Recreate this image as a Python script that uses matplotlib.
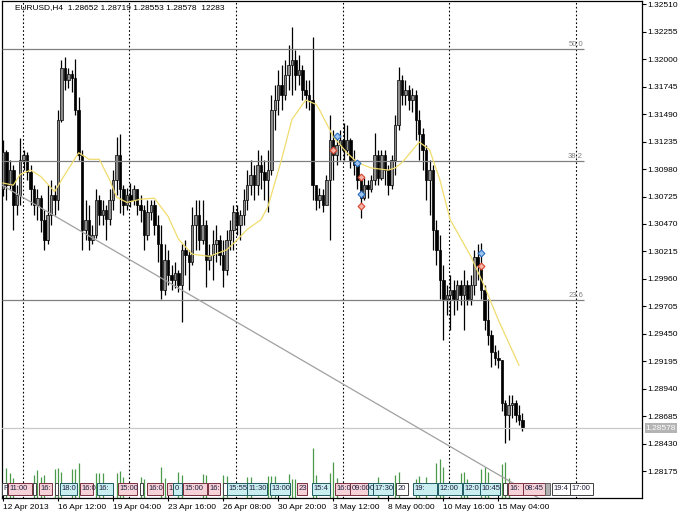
import numpy as np
import matplotlib.pyplot as plt
from matplotlib.patches import Rectangle
import matplotlib.transforms as mtransforms

plt.rcParams['font.family'] = ['Liberation Sans', 'DejaVu Sans']

# ---- data (EURUSD H4) ----
first_open = 1.3079
close = [1.3114, 1.3083, 1.3097, 1.3065, 1.3074, 1.3106, 1.3111, 1.3095, 1.3079, 1.3065,
         1.3071, 1.3051, 1.3032, 1.3055, 1.3074, 1.3069, 1.3143, 1.3192, 1.3181, 1.3186,
         1.3182, 1.3153, 1.3111, 1.3041, 1.3051, 1.3032, 1.3037, 1.3069, 1.3055, 1.3060,
         1.3052, 1.3069, 1.3088, 1.3111, 1.3079, 1.3065, 1.3074, 1.3069, 1.3079, 1.3065,
         1.3060, 1.3037, 1.3058, 1.3065, 1.3046, 1.3028, 1.2986, 1.3014, 1.3000, 1.2995,
         1.3002, 1.2990, 1.3023, 1.3018, 1.3012, 1.3046, 1.3055, 1.3032, 1.3046, 1.3014,
         1.3018, 1.3028, 1.3032, 1.3018, 1.3004, 1.3032, 1.3041, 1.3058, 1.3046, 1.3055,
         1.3069, 1.3083, 1.3092, 1.3083, 1.3102, 1.3095, 1.3088, 1.3097, 1.3153, 1.3162,
         1.3176, 1.3167, 1.3185, 1.3194, 1.3199, 1.3185, 1.3190, 1.3171, 1.3167, 1.3162,
         1.3083, 1.3069, 1.3074, 1.3065, 1.3088, 1.3125, 1.3111, 1.3120, 1.3125, 1.3116,
         1.3125, 1.3106, 1.3102, 1.3088, 1.3071, 1.3083, 1.3079, 1.3088, 1.3111, 1.3090,
         1.3111, 1.3097, 1.3083, 1.3106, 1.3139, 1.3181, 1.3167, 1.3171, 1.3162, 1.3167,
         1.3143, 1.3130, 1.3116, 1.3088, 1.3097, 1.3041, 1.3023, 1.2995, 1.2977, 1.2981,
         1.2986, 1.2977, 1.2990, 1.2981, 1.2990, 1.2977, 1.2990, 1.3016, 1.3009, 1.2986,
         1.2958, 1.2944, 1.2928, 1.2923, 1.2921, 1.2881, 1.2870, 1.2879, 1.2881, 1.2870,
         1.28652, 1.28578]
high = [1.3125, 1.3116, 1.3106, 1.3102, 1.3083, 1.3127, 1.3116, 1.3114, 1.3102, 1.3083,
        1.3079, 1.3074, 1.3060, 1.3083, 1.3088, 1.3083, 1.3153, 1.3199, 1.3202, 1.3192,
        1.3190, 1.3200, 1.3165, 1.3116, 1.3069, 1.3065, 1.3046, 1.3079, 1.3074, 1.3069,
        1.3065, 1.3079, 1.3097, 1.3128, 1.3130, 1.3083, 1.3080, 1.3085, 1.3083, 1.3079,
        1.3074, 1.3065, 1.3069, 1.3069, 1.3069, 1.3055, 1.3046, 1.3028, 1.3023, 1.3009,
        1.3012, 1.3004, 1.3028, 1.3032, 1.3023, 1.3063, 1.3069, 1.3069, 1.3069, 1.3051,
        1.3028, 1.3041, 1.3046, 1.3037, 1.3032, 1.3041, 1.3051, 1.3065, 1.3065, 1.3060,
        1.3079, 1.3097, 1.3106, 1.3102, 1.3116, 1.3111, 1.3106, 1.3116, 1.3167, 1.3176,
        1.3190, 1.3194, 1.3199, 1.3213, 1.3230, 1.3208, 1.3204, 1.3194, 1.3181, 1.3181,
        1.3220, 1.3083, 1.3080, 1.3079, 1.3092, 1.3148, 1.3134, 1.3130, 1.3134, 1.3141,
        1.3139, 1.3127, 1.3116, 1.3106, 1.3092, 1.3090, 1.3088, 1.3092, 1.3131, 1.3116,
        1.3116, 1.3116, 1.3102, 1.3111, 1.3148, 1.3193, 1.3185, 1.3181, 1.3176, 1.3173,
        1.3171, 1.3153, 1.3136, 1.3120, 1.3106, 1.3102, 1.3051, 1.3037, 1.3009, 1.2990,
        1.3000, 1.2995, 1.2995, 1.2995, 1.3004, 1.2995, 1.3000, 1.3023, 1.3028, 1.3029,
        1.2990, 1.2977, 1.2949, 1.2935, 1.2930, 1.2921, 1.2884, 1.2888, 1.2888, 1.2884,
        1.2879, 1.28719]
low = [1.3073, 1.3069, 1.3079, 1.3041, 1.3055, 1.3065, 1.3097, 1.3088, 1.3065, 1.3055,
       1.3051, 1.3040, 1.3023, 1.3028, 1.3046, 1.3055, 1.3060, 1.3142, 1.3171, 1.3173,
       1.3169, 1.3148, 1.3106, 1.3023, 1.3032, 1.3023, 1.3028, 1.3034, 1.3046, 1.3046,
       1.3032, 1.3046, 1.3060, 1.3074, 1.3057, 1.3055, 1.3060, 1.3063, 1.3065, 1.3055,
       1.3049, 1.3023, 1.3032, 1.3051, 1.3037, 1.3012, 1.2977, 1.2981, 1.2990, 1.2986,
       1.2988, 1.2984, 1.2956, 1.3000, 1.2986, 1.3009, 1.3023, 1.3023, 1.3028, 1.2989,
       1.3004, 1.2995, 1.3012, 1.3009, 1.2989, 1.3000, 1.3023, 1.3023, 1.3037, 1.3032,
       1.3046, 1.3060, 1.3074, 1.3069, 1.3074, 1.3079, 1.3069, 1.3058, 1.3092, 1.3134,
       1.3148, 1.3153, 1.3162, 1.3171, 1.3167, 1.3171, 1.3176, 1.3162, 1.3155, 1.3153,
       1.3069, 1.3060, 1.3062, 1.3058, 1.3065, 1.3032, 1.3088, 1.3102, 1.3106, 1.3106,
       1.3111, 1.3099, 1.3092, 1.3079, 1.3053, 1.3069, 1.3071, 1.3077, 1.3083, 1.3083,
       1.3088, 1.3083, 1.3074, 1.3079, 1.3092, 1.3134, 1.3157, 1.3157, 1.3153, 1.3151,
       1.3125, 1.3106, 1.3097, 1.3069, 1.3055, 1.3023, 1.3009, 1.2977, 1.2939, 1.2963,
       1.2949, 1.2963, 1.2967, 1.2972, 1.2949, 1.2972, 1.2972, 1.2981, 1.2995, 1.2977,
       1.2949, 1.2935, 1.2914, 1.2916, 1.2913, 1.2874, 1.2844, 1.2847, 1.2867, 1.2863,
       1.2861, 1.28553]
opn = [first_open] + close[:-1]

# moving average (bar index, value)
ma_bar = [0, 3, 5, 8, 11, 15, 18, 22, 25, 28, 31, 33, 36, 40, 44, 48, 51, 55, 60, 65,
          68, 71, 75, 77, 81, 84, 88, 91, 92, 96, 100, 103, 107, 112, 114, 116, 121, 124,
          127, 130, 136, 140, 144, 146, 150]
ma_val = [1.3085, 1.3083, 1.3093, 1.3097, 1.3091, 1.3077, 1.3093, 1.3113, 1.3107, 1.3107,
          1.3088, 1.3072, 1.3067, 1.3070, 1.3071, 1.3054, 1.3033, 1.3019, 1.3017, 1.3023,
          1.3032, 1.3042, 1.3051, 1.3063, 1.3107, 1.3144, 1.3162, 1.3158, 1.3153, 1.3128,
          1.3113, 1.3104, 1.3099, 1.3097, 1.3099, 1.3104, 1.3123, 1.3116, 1.3088, 1.3051,
          1.3017, 1.2989, 1.2958, 1.2944, 1.2916]

# volume spikes (bar index, volume)
vol_bar = [1, 2, 3, 9, 10, 11, 12, 15, 16, 17, 20, 21, 22, 27, 28, 29, 33, 34, 35, 40, 41,
           46, 47, 51, 52, 58, 59, 64, 65, 71, 72, 77, 78, 79, 83, 84, 85, 90, 91, 95, 96,
           97, 109, 114, 115, 120, 121, 123, 126, 127, 128, 133, 134, 135, 139, 140, 141,
           145, 146, 147]
vol_val = [300, 250, 200, 230, 280, 210, 230, 290, 300, 260, 290, 290, 350, 250, 250, 250,
           250, 270, 210, 210, 190, 310, 200, 260, 230, 240, 230, 230, 220, 210, 210, 220,
           220, 220, 240, 190, 190, 500, 230, 250, 360, 200, 210, 230, 260, 190, 220, 210,
           350, 390, 310, 250, 260, 190, 290, 310, 260, 340, 360, 200]

# arrows (bar index, price)
buy_bar = [97, 103, 104, 139]
buy_val = [1.3129, 1.3104, 1.3075, 1.3020]
sell_bar = [96, 104, 104, 139]
sell_val = [1.3116, 1.3091, 1.3064, 1.3008]

fib_levels = [1.32093, 1.31058, 1.29769]
fib_names = ['50.0', '38.2', '23.6']
trend_bar = [-0.3, 155.6]
trend_val = [1.3083, 1.2793]
last_price = 1.28578

date_bar = [0, 16, 32, 48, 64, 80, 96, 112, 128, 144]
date_labels = ['12 Apr 2013', '16 Apr 12:00', '19 Apr 04:00', '23 Apr 16:00', '26 Apr 08:00',
               '30 Apr 20:00', '3 May 12:00', '8 May 00:00', '10 May 16:00', '15 May 04:00']
sep_bar = [5.8, 36.6, 67.7, 98.8, 129.7, 166.6]

# event labels along the bottom: (start bar, end bar, kind, text)
events = [(-0.3, 1.2, 'w', 'P'), (1.5, 8.4, 'p', '11:00'), (8.7, 9.6, 'w', ''),
          (10.5, 14.2, 'p', '16:'), (15.1, 16.0, 'w', ''), (16.6, 21.5, 'c', '18:0'),
          (22.4, 26.2, 'p', '16:0'), (27.3, 32.0, 'c', '16:'), (33.4, 39.0, 'p', '15:00'),
          (39.8, 40.7, 'w', ''), (41.9, 46.5, 'p', '16:0'), (47.7, 49.4, 'p', '1'),
          (49.4, 52.0, 'c', '0'), (52.3, 59.3, 'p', '15:00'), (59.6, 63.1, 'p', '16:'),
          (63.9, 65.1, 'w', ''), (65.1, 70.9, 'c', '15:55'), (70.9, 76.7, 'c', '11:30'),
          (77.6, 83.4, 'c', '13:00'), (85.5, 88.4, 'p', '23'), (89.8, 95.1, 'c', '15:4'),
          (96.5, 100.9, 'p', '16:0'), (100.9, 106.1, 'p', '09:00'), (106.1, 107.6, 'c', '0'),
          (107.6, 113.4, 'c', '17:30'), (114.3, 117.8, 'w', '20'), (119.2, 126.2, 'c', '19:'),
          (126.5, 133.4, 'c', '12:00'), (133.7, 138.7, 'c', '12:0'), (138.7, 144.5, 'c', '10:45'),
          (145.3, 146.5, 'w', ''), (146.8, 151.2, 'p', '16:'), (151.2, 157.6, 'p', '08:45'),
          (157.6, 159.0, 'g', ''), (159.6, 164.8, 'w', '19:4'), (164.8, 171.5, 'w', '17:00')]

# ---- drawing ----
W, H = 688, 516
fig = plt.figure(figsize=(W / 100, H / 100), dpi=100)
ax = fig.add_axes([2 / W, 18 / H, 640 / W, 497 / H])
ax.set_xlim(-0.29, 185.76)
ax.set_ylim(1.27929, 1.32538)

n = len(close)
x = np.arange(n)
o = np.array(opn)
c = np.array(close)
hi = np.array(high)
lo = np.array(low)

for s in sep_bar:
    ax.axvline(s, color='black', lw=0.8, ls=(0, (1.5, 2)), zorder=1)

trans = mtransforms.blended_transform_factory(ax.transData, ax.transAxes)
# volume spikes: value of 10 per pixel of height
ax.vlines(vol_bar, 0, np.array(vol_val) / 4970, color='#4a9a4a', lw=0.9,
          transform=trans, zorder=2)

ax.vlines(x, lo, hi, color='black', lw=0.9, zorder=3)
up = c >= o
body_lo = np.minimum(o, c)
body_h = np.maximum(np.abs(c - o), 0.00003)
ax.bar(x[up], body_h[up], bottom=body_lo[up], width=0.72, color='#8c8c8c',
       edgecolor='black', lw=0.5, zorder=4)
ax.bar(x[~up], body_h[~up], bottom=body_lo[~up], width=0.72, color='black',
       edgecolor='black', lw=0.5, zorder=4)

xmax_fib = 168.9
for lvl, name in zip(fib_levels, fib_names):
    ax.hlines(lvl, -0.29, xmax_fib, color='#808080', lw=0.9, zorder=5)
    ax.text(168.6, lvl + 0.0001, name, ha='right', va='bottom', fontsize=5.5, color='#808080')

ax.axhline(last_price, color='#c8c8c8', lw=0.9, zorder=5)
ax.plot(trend_bar, trend_val, color='#a0a0a0', lw=0.9, zorder=5)

ax.plot(ma_bar, ma_val, color='#f0dc6e', lw=0.9, zorder=6)

ax.plot(buy_bar, buy_val, 'D', ms=3.5, mfc='#9ec3ee', mec='#2a6fc0', mew=0.8, zorder=7)
ax.plot(sell_bar, sell_val, 'D', ms=3.5, mfc='#f4b4a8', mec='#d8452e', mew=0.8, zorder=7)

box_fill = {'p': '#f6d2d8', 'c': '#c8eef0', 'w': '#ffffff', 'g': '#b0b0b0'}
box_edge = {'p': '#7a3040', 'c': '#205a60', 'w': '#404040', 'g': '#606060'}
for b0, b1, kind, txt in events:
    r = Rectangle((b0, 0.007), b1 - b0, 0.024, transform=trans, facecolor=box_fill[kind],
                  edgecolor=box_edge[kind], lw=0.7, zorder=8)
    ax.add_patch(r)
    if txt:
        t = ax.text(b0 + 0.5, 0.019, txt, transform=trans, fontsize=5.5, va='center',
                    ha='left', color='#202040', zorder=9)
        t.set_clip_path(r)

ax.yaxis.tick_right()
yt = np.round(np.arange(1.32510, 1.2810, -0.00255), 5)
ax.set_yticks(yt)
ax.set_yticklabels(['%.5f' % v for v in yt])
ax.tick_params(axis='y', length=3, pad=1, labelsize=6, colors='black')
ax.set_xticks(date_bar)
ax.set_xticklabels(date_labels, ha='left')
ax.tick_params(axis='x', direction='inout', length=5, pad=2, labelsize=6)

for sp in ax.spines.values():
    sp.set_color('black')
    sp.set_linewidth(0.9)

pt = mtransforms.blended_transform_factory(ax.transAxes, ax.transData)
ax.text(1.006, last_price, '1.28578', transform=pt, fontsize=6, color='white', va='center',
        ha='left', bbox=dict(boxstyle='square,pad=0.15', fc='#b4b4b4', ec='none'))

fig.text(15 / W, 1 - 8 / H, 'EURUSD,H4  1.28652 1.28719 1.28553 1.28578  12283',
         fontsize=6, va='center', ha='left')

fig.savefig('out.png', dpi=100)
